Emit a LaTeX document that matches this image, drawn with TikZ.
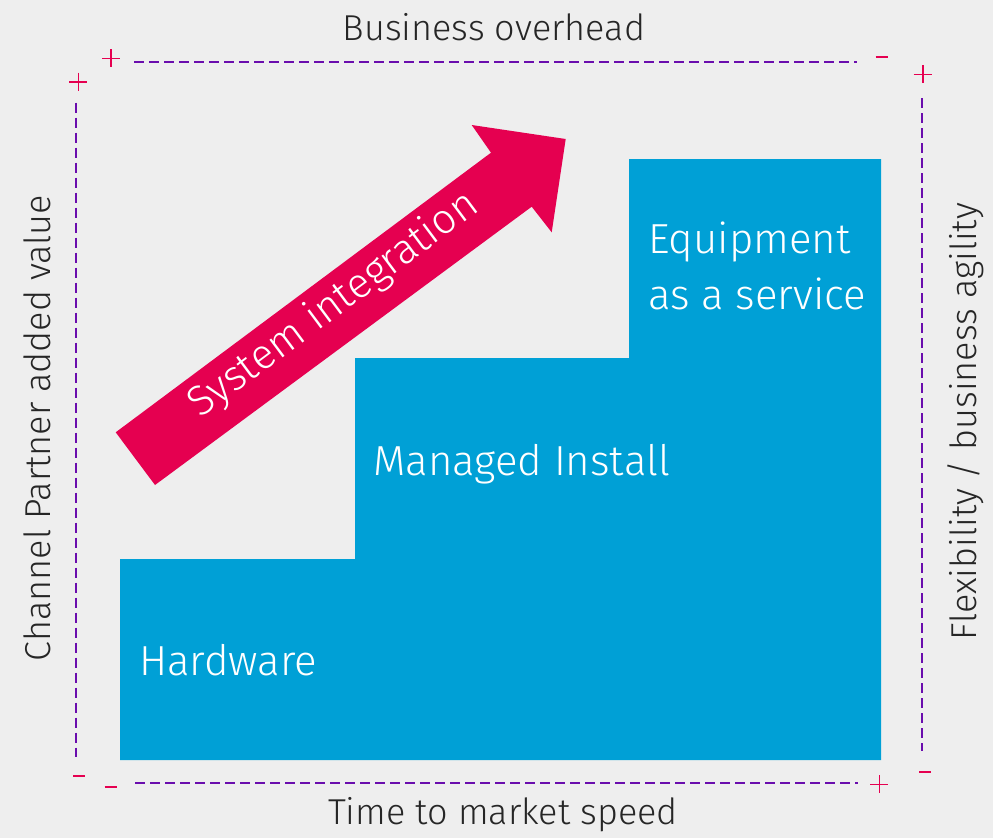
\documentclass[tikz,border=0pt]{standalone}
\usepackage{fontspec}
\setmainfont{Fira Sans Light}
\definecolor{bg}{HTML}{EEEEEE}
\definecolor{stepblue}{HTML}{00A0D6}
\definecolor{arrowpink}{HTML}{E50050}
\definecolor{axispurple}{HTML}{6A0DAD}
\tikzset{
  axisline/.style={axispurple, line width=2.3pt, dash pattern=on 10pt off 5pt},
  signmark/.style={arrowpink, line width=1.6pt},
  axislabel/.style={black!85, font=\fontsize{36}{40}\selectfont, inner sep=0pt},
  steplabel/.style={white, font=\fontsize{42}{48}\selectfont, inner sep=0pt, anchor=base west},
}
\begin{document}
\begin{tikzpicture}[x=1pt,y=-1pt]
\fill[bg] (0,0) rectangle (993,838);
\useasboundingbox (0,0) rectangle (993,838);
% staircase
\fill[stepblue] (120,760) -- (120,559) -- (355,559) -- (355,358) -- (629,358) -- (629,159) -- (881,159) -- (881,760) -- cycle;
% arrow
\fill[arrowpink] (115.7,432.3) -- (491,152.7) -- (471.7,125) -- (565.7,139) -- (551.7,232.3) -- (531.7,206.7) -- (155,485) -- cycle;
\node[white, font=\fontsize{42}{48}\selectfont, inner sep=0pt, rotate=36.7] (sysint) at (334,305) {System integration};
% step labels
\node[steplabel] (hw) at (139,675) {Hardware};
\node[steplabel] (mi) at (373,475.7) {Managed Install};
\node[steplabel] (eq) at (648,253.3) {Equipment};
\node[steplabel] (eqb) at (648,309) {as a service};
% axes
\coordinate (tl) at (134,62.3); \coordinate (tr) at (857,62.3);
\coordinate (bl) at (135,783); \coordinate (br) at (858,783);
\coordinate (lt) at (75.7,102.7); \coordinate (lb) at (75.7,757);
\coordinate (rt) at (922,98); \coordinate (rb) at (922,751);
\draw[axisline] (tl) -- (tr);
\draw[axisline] (bl) -- (br);
\draw[axisline] (lt) -- (lb);
\draw[axisline] (rt) -- (rb);
% signs
\draw[signmark] (102,58.3) -- (120,58.3) (111,49.3) -- (111,67.3);
\draw[signmark] (69.3,81.7) -- (87.3,81.7) (78.3,72.7) -- (78.3,90.7);
\draw[signmark] (875.7,56.7) -- (887.7,56.7);
\draw[signmark] (913.7,74.3) -- (931.7,74.3) (922.7,65.3) -- (922.7,83.3);
\draw[signmark] (73,775.7) -- (85,775.7);
\draw[signmark] (104.7,786.7) -- (116.7,786.7);
\draw[signmark] (870.3,784.3) -- (888.3,784.3) (879.3,775.3) -- (879.3,793.3);
\draw[signmark] (919.3,772) -- (931.3,772);
% axis labels
\node[axislabel] (top) at (494,27) {Business overhead};
\node[axislabel] (bottom) at (503,815) {Time to market speed};
\node[axislabel, rotate=90] (left) at (37,428) {Channel Partner added value};
\node[axislabel, rotate=90] (right) at (966,422) {Flexibility / business agility};
\end{tikzpicture}
\end{document}
